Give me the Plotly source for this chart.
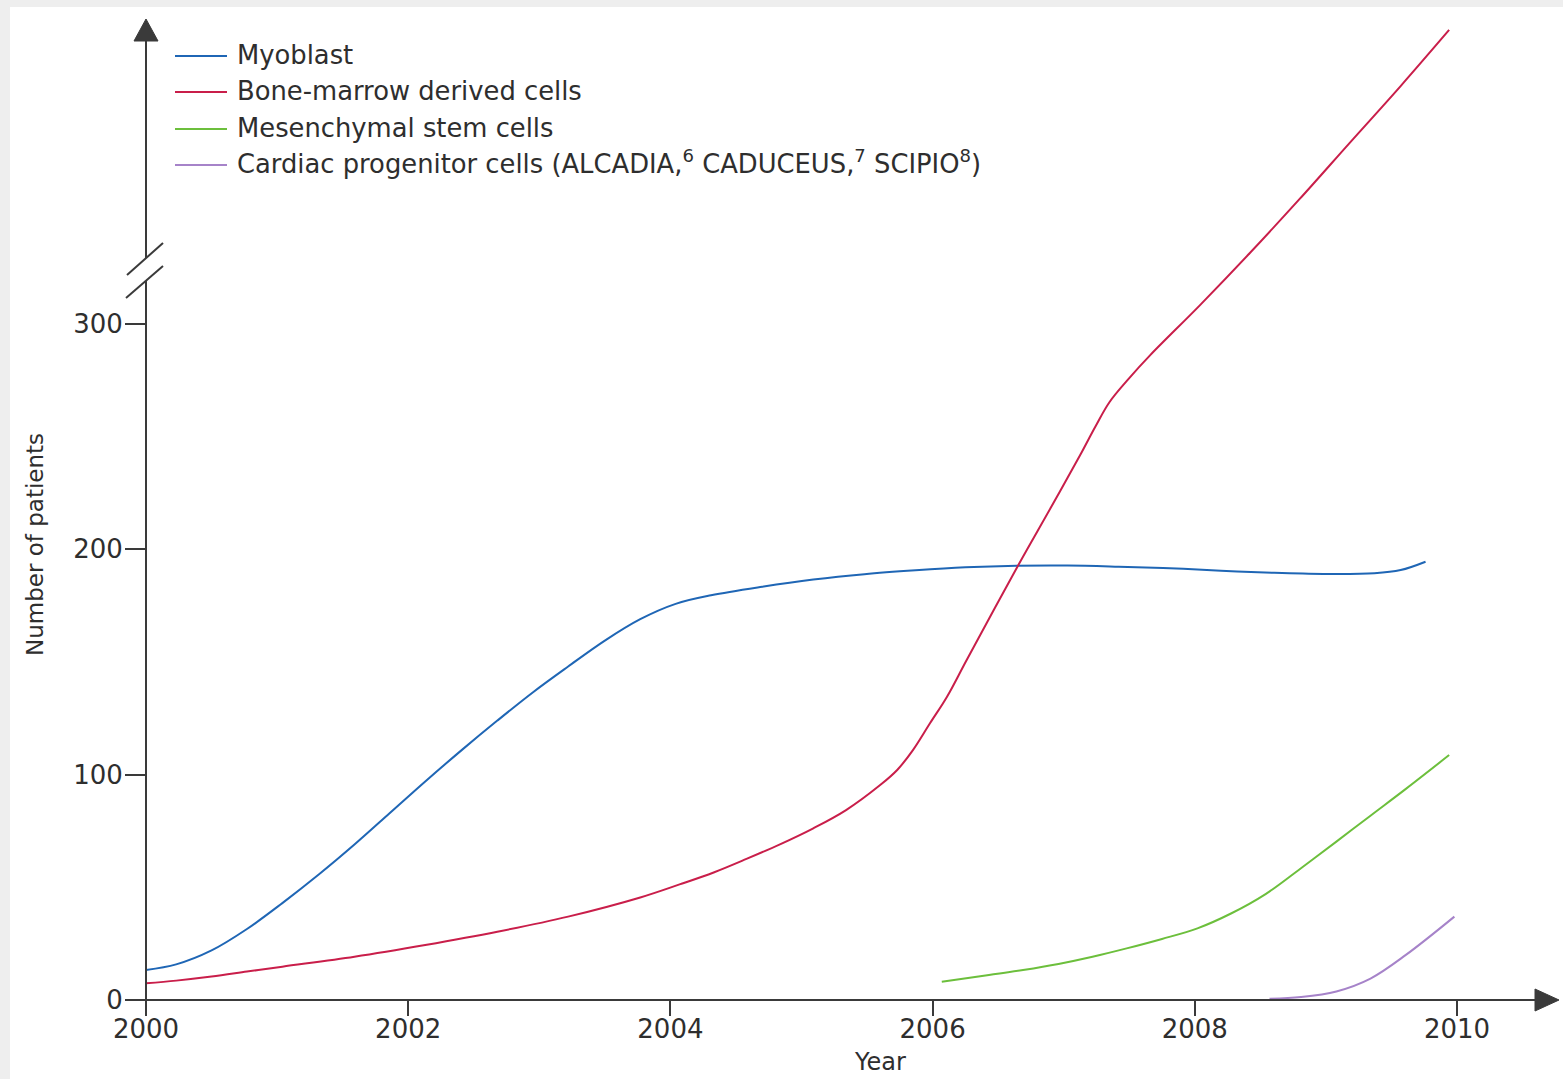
import plotly.graph_objects as go

# ---- data -------------------------------------------------------------
myoblast_year = [2000.0, 2000.23, 2000.5, 2000.77, 2001.04, 2001.32, 2001.59, 2001.86,
                 2002.13, 2002.41, 2002.68, 2002.95, 2003.22, 2003.5, 2003.77, 2004.04,
                 2004.31, 2004.7, 2005.09, 2005.48, 2005.87, 2006.25, 2006.64, 2007.03,
                 2007.42, 2007.81, 2008.2, 2008.59, 2008.98, 2009.37, 2009.57, 2009.76]
myoblast_val = [13.3, 15.8, 22.0, 31.5, 43.0, 55.8, 69.0, 83.0,
                97.0, 111.0, 124.0, 136.5, 148.0, 159.5, 169.0, 175.8,
                179.6, 183.4, 186.6, 189.0, 190.7, 192.0, 192.7, 192.8,
                192.3, 191.6, 190.5, 189.6, 189.1, 189.4, 190.8, 194.5]

marrow_year = [2000.0, 2000.23, 2000.5, 2000.77, 2001.04, 2001.59, 2002.13, 2002.68,
               2003.22, 2003.77, 2004.07, 2004.33, 2004.58, 2004.84, 2005.09, 2005.34,
               2005.6, 2005.73, 2005.85, 2005.98, 2006.11, 2006.26, 2006.65, 2006.9,
               2007.13, 2007.24, 2007.35, 2007.5, 2007.66, 2008.04, 2008.42, 2008.8,
               2009.18, 2009.57, 2009.94]
marrow_val = [7.4, 8.6, 10.4, 12.6, 14.8, 19.2, 24.4, 30.3,
              37.0, 45.5, 51.3, 56.6, 62.6, 69.2, 76.2, 84.3,
              95.4, 102.1, 110.9, 122.8, 134.6, 150.9, 192.6, 218.3,
              242.3, 254.3, 265.4, 276.0, 286.2, 308.4, 331.5, 355.5,
              380.3, 405.6, 430.5]

mesenchymal_year = [2006.07, 2006.43, 2006.69, 2006.96, 2007.22, 2007.48, 2007.75, 2008.02,
                    2008.28, 2008.54, 2008.81, 2009.08, 2009.34, 2009.61, 2009.94]
mesenchymal_val = [8.1, 11.1, 13.3, 16.0, 19.2, 22.9, 27.1, 31.8,
                   38.5, 47.0, 58.5, 70.3, 81.8, 93.7, 108.7]

cardiac_year = [2008.57, 2008.81, 2009.08, 2009.34, 2009.61, 2009.98]
cardiac_val = [0.5, 1.3, 3.8, 9.5, 20.0, 37.0]

series_names = [
    "Myoblast",
    "Bone-marrow derived cells",
    "Mesenchymal stem cells",
    "Cardiac progenitor cells (ALCADIA,<sup>6</sup> CADUCEUS,<sup>7</sup> SCIPIO<sup>8</sup>)",
]
series_colors = ["#1f66b5", "#c91e4a", "#6cbf3c", "#a683c9"]
series_x = [myoblast_year, marrow_year, mesenchymal_year, cardiac_year]
series_y = [myoblast_val, marrow_val, mesenchymal_val, cardiac_val]

x_ticks = [2000, 2002, 2004, 2006, 2008, 2010]
y_ticks = [0, 100, 200, 300]

# ---- page geometry (pixels) ------------------------------------------
W, H = 1563, 1079
ML, MR, MT, MB = 146, 28, 20, 79
PW, PH = W - ML - MR, H - MT - MB
PX_PER_YEAR = 131.1
PX_PER_UNIT = 2.2533

AXIS_COLOR = "#3a3a3a"
TEXT_COLOR = "#2e2e2e"
FONT = "DejaVu Sans"


def px(x):
    """Horizontal page pixel -> paper coordinate."""
    return (x - ML) / PW


def py(y):
    """Vertical page pixel -> paper coordinate."""
    return (H - MB - y) / PH


fig = go.Figure()
for name, color, xs, ys in zip(series_names, series_colors, series_x, series_y):
    fig.add_trace(go.Scatter(
        x=xs, y=ys, mode="lines", name=name,
        line=dict(color=color, width=2, shape="spline", smoothing=1.0),
        showlegend=False, hoverinfo="skip",
    ))

shapes = []
# white card on the light grey page
shapes.append(dict(type="rect", xref="paper", yref="paper",
                   x0=px(10), x1=px(W + 5), y0=py(7), y1=py(H + 5),
                   fillcolor="white", line=dict(width=0), layer="below"))

line_style = dict(color=AXIS_COLOR, width=2)
# x axis with arrow
shapes.append(dict(type="line", xref="paper", yref="paper",
                   x0=px(127), x1=px(1540), y0=py(1000), y1=py(1000), line=line_style))
shapes.append(dict(type="path", xref="paper", yref="paper",
                   path=f"M {px(1535)},{py(989)} L {px(1559)},{py(1000)} L {px(1535)},{py(1011)} Z",
                   fillcolor=AXIS_COLOR, line=dict(color=AXIS_COLOR, width=1)))
# y axis, broken between the two slashes, with arrow
shapes.append(dict(type="line", xref="paper", yref="paper",
                   x0=px(146), x1=px(146), y0=py(1015), y1=py(281), line=line_style))
shapes.append(dict(type="line", xref="paper", yref="paper",
                   x0=px(146), x1=px(146), y0=py(258), y1=py(38), line=line_style))
shapes.append(dict(type="path", xref="paper", yref="paper",
                   path=f"M {px(134)},{py(41)} L {px(146)},{py(19)} L {px(158)},{py(41)} Z",
                   fillcolor=AXIS_COLOR, line=dict(color=AXIS_COLOR, width=1)))
shapes.append(dict(type="line", xref="paper", yref="paper",
                   x0=px(127), x1=px(163), y0=py(275), y1=py(243), line=line_style))
shapes.append(dict(type="line", xref="paper", yref="paper",
                   x0=px(126), x1=px(163), y0=py(298), y1=py(266), line=line_style))

# legend keys
legend_rows = [56, 92, 129, 165]
legend_text_rows = [55, 91, 128, 162]
annotations = []
for name, color, row, trow in zip(series_names, series_colors, legend_rows, legend_text_rows):
    shapes.append(dict(type="line", xref="paper", yref="paper",
                       x0=px(175), x1=px(227), y0=py(row), y1=py(row),
                       line=dict(color=color, width=2)))
    annotations.append(dict(xref="paper", yref="paper", x=px(235), y=py(trow),
                            xanchor="left", yanchor="middle", text=name, showarrow=False,
                            font=dict(family=FONT, size=25.8, color=TEXT_COLOR)))

# axis titles
annotations.append(dict(xref="paper", yref="paper", x=px(35), y=py(545),
                        xanchor="center", yanchor="middle", text="Number of patients",
                        textangle=-90, showarrow=False,
                        font=dict(family=FONT, size=23, color=TEXT_COLOR)))
annotations.append(dict(xref="paper", yref="paper", x=px(880), y=py(1078),
                        xanchor="center", yanchor="bottom", text="Year", showarrow=False,
                        font=dict(family=FONT, size=24, color=TEXT_COLOR)))

x_max = 2000 + PW / PX_PER_YEAR
y_max = PH / PX_PER_UNIT

fig.update_layout(
    width=W, height=H,
    margin=dict(l=ML, r=MR, t=MT, b=MB, pad=0),
    paper_bgcolor="#eeeeee",
    plot_bgcolor="white",
    showlegend=False,
    shapes=shapes,
    annotations=annotations,
    xaxis=dict(range=[2000, x_max], tickvals=x_ticks, ticktext=[str(v) for v in x_ticks],
               ticks="outside", ticklen=15, tickwidth=2, tickcolor=AXIS_COLOR,
               ticklabelstandoff=-9,
               showline=False, showgrid=False, zeroline=False, fixedrange=True,
               tickfont=dict(family=FONT, size=26, color=TEXT_COLOR)),
    yaxis=dict(range=[0, y_max], tickvals=y_ticks, ticktext=[str(v) for v in y_ticks],
               ticks="outside", ticklen=20, tickwidth=2, tickcolor=AXIS_COLOR,
               ticklabelstandoff=-3,
               showline=False, showgrid=False, zeroline=False, fixedrange=True,
               tickfont=dict(family=FONT, size=26, color=TEXT_COLOR)),
)

fig.write_html("out.html", config={"displayModeBar": False})
